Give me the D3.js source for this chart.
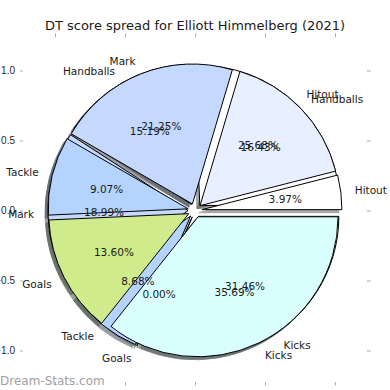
<!DOCTYPE html>
<html lang="en">
<head>
<meta charset="UTF-8">
<title>DT score spread</title>
<script src="https://d3js.org/d3.v7.min.js"></script>
<style>
  body { margin: 0; background: #fff; }
  svg { display: block; font-family: "DejaVu Sans", sans-serif; }
  .tick line { stroke: #b0b0b0; }
  .tick text { fill: #262626; font-size: 10px; }
</style>
</head>
<body>
<svg width="390" height="390"></svg>
<script>
// two seasons of DT score spread, same categories
const categories = ["Hitout", "Handballs", "Mark", "Tackle", "Goals", "Kicks"];
const spreadBack = [25.68, 15.19, 18.99, 8.68, 0.00, 31.46];   // drawn first
const spreadFront = [3.97, 16.43, 21.25, 9.07, 13.60, 35.69];  // drawn on top
const sliceColors = ["#ffffff", "#e8f0ff", "#c5d9ff", "#b4d4ff", "#d0eb8c", "#d9ffff"];
const axisTicks = [-1.0, -0.5, 0.0, 0.5, 1.0];

const explode = 0.05;
const svg = d3.select("svg");

let x = d3.scaleLinear().domain([-1, 1]).range([55, 335]);
let y = d3.scaleLinear().domain([-1, 1]).range([350.5, 70.5]);
let R = x(1) - x(0);

// axes: ticks only, no frame
svg.append("g").attr("class", "axis")
    .attr("transform", "translate(0,37.3)")
    .call(d3.axisTop(x).tickValues(axisTicks).tickSize(4).tickFormat(""))
    .select(".domain").remove();
svg.append("g").attr("class", "axis")
    .attr("transform", "translate(0,382)")
    .call(d3.axisBottom(x).tickValues(axisTicks).tickSize(3.5).tickPadding(5).tickFormat(d3.format(".1f")))
    .select(".domain").remove();
svg.append("g").attr("class", "axis")
    .attr("transform", "translate(23,0)")
    .call(d3.axisLeft(y).tickValues(axisTicks).tickSize(3).tickPadding(5).tickFormat(d3.format(".1f")))
    .select(".domain").remove();
svg.append("g").attr("class", "axis")
    .attr("transform", "translate(367,0)")
    .call(d3.axisRight(y).tickValues(axisTicks).tickSize(4).tickFormat(""))
    .select(".domain").remove();

// counter-clockwise from 3 o'clock, like matplotlib
let pie = d3.pie().sort(null).value(d => d)
    .startAngle(Math.PI / 2).endAngle(Math.PI / 2 - 2 * Math.PI);
let arc = d3.arc().innerRadius(0).outerRadius(R);

function layout(values) {
    let total = d3.sum(values);
    return pie(values).map((d, i) => {
        let theta = Math.PI / 2 - (d.startAngle + d.endAngle) / 2;
        return {
            arc: d, i: i,
            pct: (d.value / total * 100).toFixed(2) + "%",
            cos: Math.cos(theta), sin: Math.sin(theta),
            ox: explode * Math.cos(theta), oy: explode * Math.sin(theta)
        };
    });
}

let pies = [layout(spreadBack), layout(spreadFront)];

let gShadow = svg.append("g");
let gWedge = svg.append("g");
let gText = svg.append("g");

pies.forEach(slices => {
    gShadow.selectAll(null).data(slices).enter().append("path")
        .attr("transform", d => `translate(${x(d.ox) - 3},${y(d.oy) + 3})`)
        .attr("d", d => arc(d.arc))
        .attr("fill", d => {
            let c = d3.rgb(sliceColors[d.i]);
            return d3.rgb(c.r * 0.3, c.g * 0.3, c.b * 0.3);
        })
        .attr("stroke", d => {
            let c = d3.rgb(sliceColors[d.i]);
            return d3.rgb(c.r * 0.3, c.g * 0.3, c.b * 0.3);
        })
        .attr("opacity", 0.5);
});

pies.forEach(slices => {
    gWedge.selectAll(null).data(slices).enter().append("path")
        .attr("transform", d => `translate(${x(d.ox)},${y(d.oy)})`)
        .attr("d", d => arc(d.arc))
        .attr("fill", d => sliceColors[d.i])
        .attr("stroke", "#000")
        .attr("stroke-width", 1)
        .attr("stroke-linejoin", "round");
});

pies.forEach(slices => {
    gText.selectAll(null).data(slices).enter().append("text")
        .attr("x", d => x(d.ox + 1.1 * d.cos))
        .attr("y", d => y(d.oy + 1.1 * d.sin))
        .attr("dy", "0.36em")
        .attr("text-anchor", d => d.cos > 0 ? "start" : "end")
        .attr("font-size", "10.5px")
        .attr("fill", "#1a1a1a")
        .text(d => categories[d.i]);
    gText.selectAll(null).data(slices).enter().append("text")
        .attr("x", d => x(d.ox + 0.6 * d.cos))
        .attr("y", d => y(d.oy + 0.6 * d.sin))
        .attr("dy", "0.36em")
        .attr("text-anchor", "middle")
        .attr("font-size", "10.5px")
        .attr("fill", "#1a1a1a")
        .text(d => d.pct);
});

svg.append("text")
    .attr("x", 195).attr("y", 30)
    .attr("text-anchor", "middle")
    .attr("font-size", "13px")
    .attr("fill", "#1a1a1a")
    .text("DT score spread for Elliott Himmelberg (2021)");

svg.append("text")
    .attr("x", 0).attr("y", 385)
    .attr("font-size", "12px")
    .attr("fill", "#a0a0a0")
    .text("Dream-Stats.com");
</script>
</body>
</html>
